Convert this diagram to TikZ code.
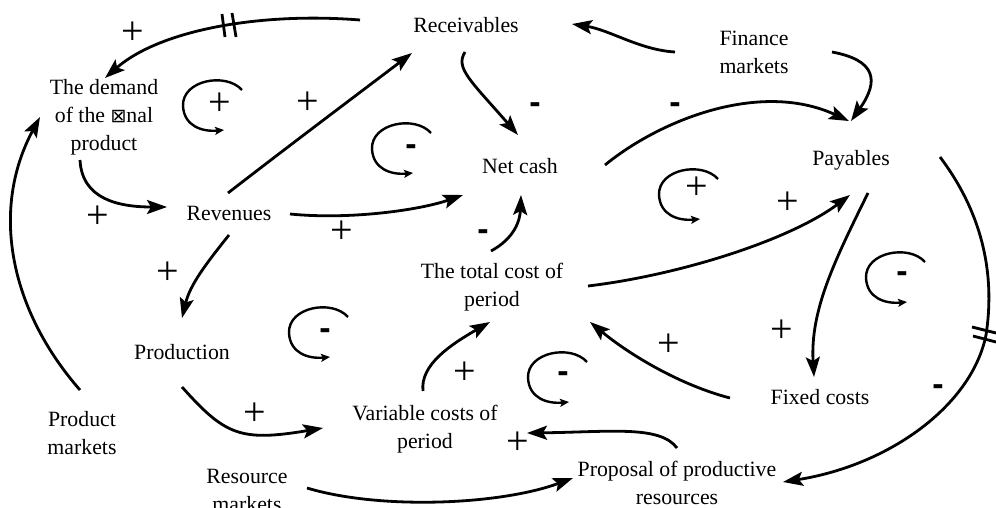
\documentclass[tikz,border=0pt]{standalone}
\usepackage{fontspec}
\setmainfont{Liberation Serif}
\newfontfamily\dejavu{DejaVu Sans}
\newfontfamily\arialfont{Liberation Sans}
\usetikzlibrary{arrows.meta,calc}
\tikzset{
 lbl/.style={font=\fontsize{21.8}{28}\selectfont, align=center, inner sep=0pt},
 conn/.style={line width=2.8pt, -{Stealth[length=20pt,width=14pt,inset=4pt]}},
 loopline/.style={line width=2.4pt, -{Stealth[length=9pt,width=8pt,inset=2pt]}},
 plussign/.style={font=\fontsize{40}{40}\selectfont, inner sep=0pt},
 minussign/.style={font=\arialfont\bfseries\fontsize{34}{34}\selectfont, inner sep=0pt},
 delaymark/.style={line width=2.8pt},
 fbloop/.pic={\draw[loopline] (30,-16) .. controls (14,-34) and (-30,-26) .. (-29,0) .. controls (-28,20) and (-10,26) .. (12,24);}
}
\begin{document}
\begin{tikzpicture}[x=1pt,y=-1pt]
\useasboundingbox (0,0) rectangle (996,508);
% nodes
\node[lbl] (rec) at (466,25) {Receivables};
\node[lbl] (fin) at (754,52) {Finance\\markets};
\node[lbl] (dem) at (104,117) {The demand\\of the {\dejavu\fontsize{19}{19}\selectfont ⊠}nal\\product};
\node[lbl] (net) at (520,166) {Net cash};
\node[lbl] (pay) at (851,160) {Payables};
\node[lbl] (rev) at (229,213) {Revenues};
\node[lbl] (prod) at (182,352) {Production};
\node[lbl] (pm) at (82,433) {Product\\markets};
\node[lbl] (rm) at (247,490) {Resource\\markets};
\node[lbl] (tc) at (492,287) {The total cost of\\period};
\node[lbl] (vc) at (425,429) {Variable costs of\\period};
\node[lbl] (fc) at (820,397) {Fixed costs};
\node[lbl] (prop) at (677,483) {Proposal of productive\\resources};
% connectors
\draw[conn] ([shift={(-106,-5)}]rec.center) .. controls (260,12) and (160,30) .. ([shift={(1,-39)}]dem.center);
\draw[conn] ([shift={(-2,-43)}]pm.center) .. controls (10,310) and (-10,210) .. ([shift={(-64,0)}]dem.center);
\draw[conn] ([shift={(-24,43)}]dem.center) .. controls (82,200) and (120,207) .. ([shift={(-62,-6)}]rev.center);
\draw[conn] ([shift={(-1,-20)}]rev.center) .. controls (290,145) and (350,100) .. ([shift={(-54,28)}]rec.center);
\draw[conn] ([shift={(61,1)}]rev.center) .. controls (350,220) and (420,210) .. ([shift={(-57,29)}]net.center);
\draw[conn] ([shift={(0,22)}]rev.center) .. controls (205,265) and (190,285) .. ([shift={(0,-34)}]prod.center);
\draw[conn] ([shift={(-1,27)}]rec.center) .. controls (455,68) and (470,80) .. ([shift={(-2,-31)}]net.center);
\draw[conn] ([shift={(-79,0)}]fin.center) .. controls (640,50) and (610,30) .. ([shift={(106,-1)}]rec.center);
\draw[conn] ([shift={(78,0)}]fin.center) .. controls (875,60) and (880,80) .. ([shift={(0,-39)}]pay.center);
\draw[conn] ([shift={(85,-1)}]net.center) .. controls (660,120) and (760,80) .. ([shift={(-2,-39)}]pay.center);
\draw[conn] ([shift={(-1,-36)}]tc.center) .. controls (515,238) and (520,220) .. ([shift={(1,29)}]net.center);
\draw[conn] ([shift={(96,-1)}]tc.center) .. controls (680,275) and (790,240) .. ([shift={(-1,35)}]pay.center);
\draw[conn] ([shift={(17,33)}]pay.center) .. controls (835,260) and (810,310) .. ([shift={(-6,-20)}]fc.center);
\draw[conn] ([shift={(-90,1)}]fc.center) .. controls (680,385) and (630,355) .. ([shift={(98,35)}]tc.center);
\draw[conn] ([shift={(89,-3)}]pay.center) .. controls (980,210) and (996,270) .. (986,335) .. controls (972,405) and (890,465) .. ([shift={(106,-1)}]prop.center);
\draw[conn] ([shift={(0,35)}]prod.center) .. controls (225,435) and (240,442) .. ([shift={(-102,-1)}]vc.center);
\draw[conn] ([shift={(-2,-38)}]vc.center) .. controls (420,365) and (450,345) .. ([shift={(-2,35)}]tc.center);
\draw[conn] ([shift={(0,-35)}]prop.center) .. controls (660,425) and (610,432) .. ([shift={(102,4)}]vc.center);
\draw[conn] ([shift={(60,-2)}]rm.center) .. controls (380,510) and (500,505) .. ([shift={(-104,-5)}]prop.center);
% delay marks
\draw[delaymark] (222,14) -- (225,37);
\draw[delaymark] (232,13) -- (236,37);
\draw[delaymark] (972,327) -- (996,333);
\draw[delaymark] (973,336) -- (996,342);
% loops
\pic at (212,106) {fbloop};
\pic at (401,149) {fbloop};
\pic at (688,195) {fbloop};
\pic at (895,278) {fbloop};
\pic at (318,333) {fbloop};
\pic at (557,378) {fbloop};
% polarity signs
\node[plussign] (p1) at (133,33) {+};
\node[plussign] (p2) at (220,104) {+};
\node[plussign] (p3) at (308,103) {+};
\node[plussign] (p4) at (98,217) {+};
\node[plussign] (p5) at (342,232) {+};
\node[plussign] (p6) at (168,273) {+};
\node[plussign] (p7) at (697,188) {+};
\node[plussign] (p8) at (788,203) {+};
\node[plussign] (p9) at (782,331) {+};
\node[plussign] (p10) at (669,345) {+};
\node[plussign] (p11) at (255,414) {+};
\node[plussign] (p12) at (465,373) {+};
\node[plussign] (p13) at (518,443) {+};
\node[minussign] (m1) at (535,108) {-};
\node[minussign] (m2) at (675,108) {-};
\node[minussign] (m3) at (411,150) {-};
\node[minussign] (m4) at (483,235) {-};
\node[minussign] (m5) at (325,334) {-};
\node[minussign] (m6) at (563,377) {-};
\node[minussign] (m7) at (902,277) {-};
\node[minussign] (m8) at (938,390) {-};
\end{tikzpicture}
\end{document}
